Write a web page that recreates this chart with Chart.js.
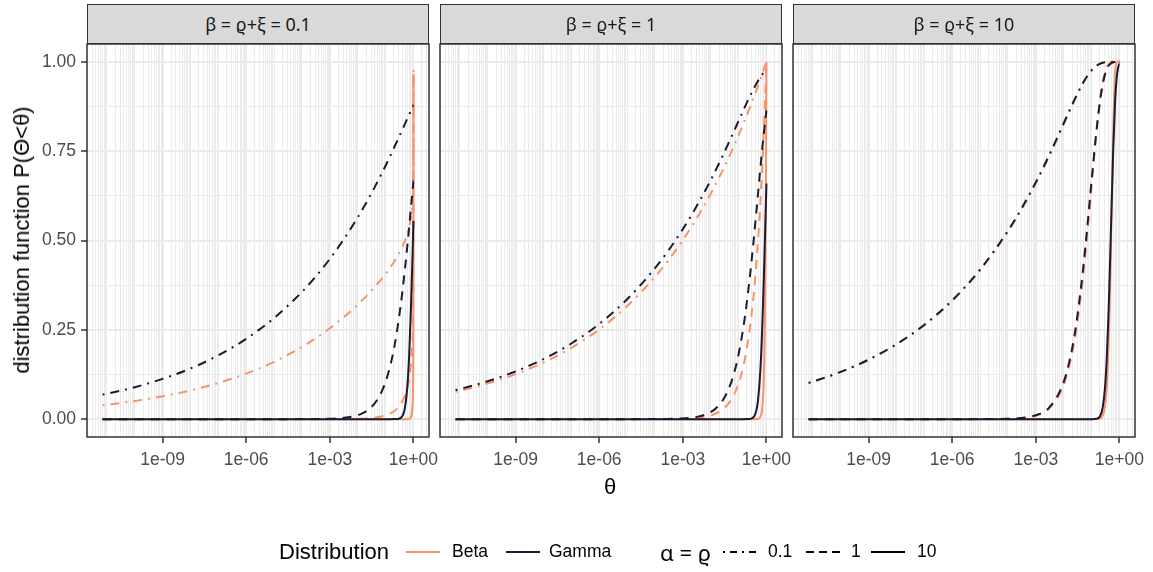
<!DOCTYPE html>
<html><head><meta charset="utf-8">
<script src="https://cdn.jsdelivr.net/npm/chart.js@4.4.1/dist/chart.umd.min.js"></script>
<style>
html,body{margin:0;padding:0;background:#fff;}
#wrap{position:relative;width:1153px;height:572px;overflow:hidden;font-family:'Liberation Sans',Arial,sans-serif;}
canvas{position:absolute;left:0;top:0;}
.strip{position:absolute;top:4px;height:40px;width:342px;box-sizing:border-box;border:1.5px solid #333;background:#D9D9D9;color:#1A1A1A;font-size:18px;font-family:'Noto Sans','DejaVu Sans',sans-serif;display:flex;align-items:center;justify-content:center;}
.txt{position:absolute;white-space:nowrap;line-height:1;}
.key{position:absolute;}
</style></head>
<body><div id="wrap">
<canvas id="c0" width="1153" height="572"></canvas>
<canvas id="c1" width="1153" height="572"></canvas>
<canvas id="c2" width="1153" height="572"></canvas>
<div class="strip" id="s0" style="left:87px"></div>
<div class="strip" id="s1" style="left:440px"></div>
<div class="strip" id="s2" style="left:793px"></div>
<div class="txt" style="left:22px;top:240px;font-size:22px;color:#000;transform:translate(-50%,-50%) rotate(-90deg);">distribution function P(Θ&lt;θ)</div>
<div class="txt" style="left:610px;top:487px;font-size:22px;color:#000;transform:translate(-50%,-50%);">θ</div>
<div id="legend"></div>
</div>
<script>
// ---------- data ----------
const panelLabels = ['β = ϱ+ξ = 0.1', 'β = ϱ+ξ = 1', 'β = ϱ+ξ = 10'];
const alphaLevels = ['0.1', '1', '10'];
const distributions = ['Beta', 'Gamma'];
const xTickValues = [1e-9, 1e-6, 1e-3, 1];
const xTickLabels = ['1e-09', '1e-06', '1e-03', '1e+00'];
const yTickValues = [0, 0.25, 0.5, 0.75, 1];
const yTickLabels = ['0.00', '0.25', '0.50', '0.75', '1.00'];

const theta = [7e-12, 1e-11, 1e-10, 1e-9, 1e-8, 1e-7, 1e-6, 1e-5, 1e-4, 3e-4, 1e-3, 3e-3,
  0.01, 0.02, 0.03, 0.05, 0.07, 0.1, 0.15, 0.2, 0.25, 0.3, 0.35, 0.4, 0.45, 0.5,
  0.6, 0.7, 0.8, 0.9, 0.95, 0.99, 0.999, 0.9999, 0.9999999999999999];

// panel beta = 0.1
const beta01_a01 = [0.0389,0.0403,0.0507,0.0639,0.0804,0.1012,0.1274,0.1604,0.2019,0.2254,0.2542,0.2839,0.3203,0.3435,0.3580,0.3775,0.3910,0.4064,0.4252,0.4396,0.4520,0.4627,0.4728,0.4821,0.4911,0.5000,0.5179,0.5373,0.5604,0.5936,0.6225,0.6797,0.7458,0.7981,0.9871];
const gamma01_a01 = [0.0686,0.0711,0.0895,0.1127,0.1418,0.1786,0.2248,0.2829,0.3562,0.3976,0.4484,0.5006,0.5645,0.6050,0.6300,0.6626,0.6850,0.7094,0.7380,0.7591,0.7755,0.7891,0.8006,0.8105,0.8192,0.8273,0.8410,0.8525,0.8622,0.8712,0.8752,0.8785,0.8790,0.8790,0.8790];
const beta01_a1 = [0,0,0,0,0,0,0,0,0,0,0.0001,0.0003,0.0010,0.0020,0.0030,0.0051,0.0072,0.0105,0.0161,0.0221,0.0284,0.0350,0.0422,0.0498,0.0580,0.0670,0.0876,0.1135,0.1487,0.2057,0.2589,0.3690,0.4988,0.6019,0.9746];
const gamma01_a1 = [0,0,0,0,0,0,0,0,0.0001,0.0003,0.0011,0.0033,0.0109,0.0218,0.0325,0.0535,0.0741,0.1042,0.1521,0.1975,0.2404,0.2811,0.3195,0.3560,0.3904,0.4231,0.4831,0.5370,0.5852,0.6284,0.6483,0.6635,0.6667,0.6671,0.6671];
const beta01_a10 = [0,0,0,0,0,0,0,0,0,0,0,0,0,0,0,0,0,0,0,0,0,0,0,0,0,0,0,0.0009,0.0045,0.0238,0.0594,0.1754,0.3402,0.4755,0.9665];
const gamma01_a10 = [0,0,0,0,0,0,0,0,0,0,0,0,0,0,0,0,0,0,0,0.0001,0.0003,0.0012,0.0036,0.0087,0.0182,0.0337,0.0881,0.1767,0.2933,0.4243,0.4900,0.5420,0.5530,0.5542,0.5543];

// panel beta = 1
const beta1_a01 = [0.0766,0.0794,0.1000,0.1259,0.1585,0.1995,0.2512,0.3162,0.3981,0.4444,0.5012,0.5595,0.6310,0.6762,0.7040,0.7411,0.7664,0.7943,0.8273,0.8513,0.8706,0.8865,0.9004,0.9124,0.9233,0.9330,0.9502,0.9650,0.9779,0.9895,0.9949,0.9990,0.9999,1.0000,1.0000];
const gamma1_a01 = [0.0813,0.0843,0.1061,0.1336,0.1682,0.2117,0.2666,0.3355,0.4224,0.4715,0.5318,0.5935,0.6689,0.7162,0.7449,0.7826,0.8077,0.8348,0.8652,0.8866,0.9023,0.9150,0.9252,0.9335,0.9408,0.9468,0.9570,0.9645,0.9708,0.9755,0.9775,0.9790,0.9793,0.9793,0.9793];
const beta1_a1 = [0,0,0,0,0,0,0,0,0.0001,0.0003,0.001,0.003,0.01,0.02,0.03,0.05,0.07,0.1,0.15,0.2,0.25,0.3,0.35,0.4,0.45,0.5,0.6,0.7,0.8,0.9,0.95,0.99,0.999,0.9999,1];
const gamma1_a1 = [0,0,0,0,0,0,0,0,0.0002,0.0006,0.0020,0.0060,0.0198,0.0392,0.0582,0.0952,0.1306,0.1813,0.2592,0.3297,0.3935,0.4512,0.5034,0.5507,0.5934,0.6321,0.6988,0.7534,0.7981,0.8347,0.8504,0.8619,0.8644,0.8647,0.8647];
const beta1_a10 = [0,0,0,0,0,0,0,0,0,0,0,0,0,0,0,0,0,0,0,0,0,0,0,0.0001,0.0003,0.0010,0.0060,0.0282,0.1074,0.3487,0.5987,0.9044,0.9900,0.9990,1.0];
const gamma1_a10 = [0,0,0,0,0,0,0,0,0,0,0,0,0,0,0,0,0,0,0,0.0001,0.0006,0.0022,0.0063,0.0149,0.0300,0.0537,0.1315,0.2470,0.3863,0.5292,0.5950,0.6465,0.6582,0.6594,0.6595];

// panel beta = 10
const beta10_a01 = [0.1009,0.1046,0.1317,0.1659,0.2088,0.2629,0.3309,0.4166,0.5245,0.5854,0.6598,0.7353,0.8245,0.8767,0.9060,0.9402,0.9595,0.9762,0.9898,0.9955,0.9982,0.9991,0.9996,0.9998,0.9999,1,1,1,1,1,1,1,1,1,1];
const gamma10_a01 = [0.1015,0.1052,0.1324,0.1667,0.2099,0.2643,0.3327,0.4189,0.5273,0.5884,0.6633,0.7387,0.8283,0.8800,0.9091,0.9420,0.9604,0.9761,0.9888,0.9945,0.9973,0.9986,0.9992,0.9996,0.9998,0.9999,1,1,1,1,1,1,1,1,1];
const beta10_a1 = [0,0,0,0,0,0,0,0.0001,0.0010,0.0030,0.0100,0.0296,0.0956,0.1829,0.2626,0.4013,0.5160,0.6513,0.8031,0.8926,0.9437,0.9718,0.9865,0.9940,0.9975,0.9990,0.9999,1,1,1,1,1,1,1,1];
const gamma10_a1 = [0,0,0,0,0,0,0,0.0001,0.0011,0.0033,0.0109,0.0325,0.1042,0.1975,0.2811,0.4231,0.5370,0.6671,0.8080,0.8892,0.9361,0.9631,0.9787,0.9877,0.9929,0.9959,0.9986,0.9995,0.9998,0.9999,1,1,1,1,1];
const beta10_a10 = [0,0,0,0,0,0,0,0,0,0,0,0,0,0,0,0,0,0,0.0001,0.0016,0.0089,0.0325,0.0875,0.1861,0.3290,0.5000,0.8139,0.9675,0.9984,1,1,1,1,1,1];
const gamma10_a10 = [0,0,0,0,0,0,0,0,0,0,0,0,0,0,0,0,0,0,0.0011,0.0081,0.0318,0.0839,0.1695,0.2834,0.4126,0.5421,0.7576,0.8906,0.9567,0.9846,0.9911,0.9942,0.9949,0.9950,0.9950];

// ---------- styling ----------
const COL = {Beta: '#F5946B', Gamma: '#1C1A33'};
const DASH = [[2, 6, 9, 6], [9, 7], []];
const LW = 2;
const TICK_FONT = 17.5;
const XMIN = Math.pow(10, -11.713), XMAX = Math.pow(10, 0.558);
const panelLeft = [87, 440, 793], panelW = 342;
const panelSeries = [
  {Beta: [beta01_a01, beta01_a1, beta01_a10], Gamma: [gamma01_a01, gamma01_a1, gamma01_a10]},
  {Beta: [beta1_a01, beta1_a1, beta1_a10], Gamma: [gamma1_a01, gamma1_a1, gamma1_a10]},
  {Beta: [beta10_a01, beta10_a1, beta10_a10], Gamma: [gamma10_a01, gamma10_a1, gamma10_a10]}
];

Chart.defaults.font.family = "'Liberation Sans', Arial, sans-serif";
Chart.defaults.font.size = TICK_FONT;

const gridX = [];
for (let n = -12; n <= 0; n++) for (let k = 1; k <= 9; k++) {
  const v = k * Math.pow(10, n);
  if (v >= XMIN && v <= XMAX) gridX.push(v);
}
const gridY = [0, 0.125, 0.25, 0.375, 0.5, 0.625, 0.75, 0.875, 1];
function xMajorIdx(v) { return xTickValues.findIndex(t => Math.abs(Math.log10(v) - Math.log10(t)) < 1e-6); }
function yMajorIdx(v) { return yTickValues.findIndex(t => Math.abs(v - t) < 1e-9); }

const frame = {id: 'frame', afterDraw(chart) {
  const {ctx, chartArea: a} = chart;
  ctx.save(); ctx.strokeStyle = '#333333'; ctx.lineWidth = 1.5;
  ctx.strokeRect(a.left, a.top, a.right - a.left, a.bottom - a.top); ctx.restore();
}};

panelSeries.forEach((ps, p) => {
  document.getElementById('s' + p).textContent = panelLabels[p];
  const datasets = [];
  // Gamma first: Chart.js draws the first dataset on top
  ['Gamma', 'Beta'].forEach(d => {
    ps[d].forEach((vals, ai) => {
      datasets.push({
        label: d + ' ' + alphaLevels[ai],
        data: theta.map((t, i) => ({x: t, y: vals[i]})),
        borderColor: COL[d], borderWidth: LW, borderDash: DASH[ai],
        pointRadius: 0, fill: false, cubicInterpolationMode: 'monotone'
      });
    });
  });
  const showY = p === 0;
  const L = panelLeft[p], R = L + panelW;
  new Chart(document.getElementById('c' + p), {
    type: 'line',
    data: {datasets},
    options: {
      responsive: false, animation: false, devicePixelRatio: 1,
      layout: {padding: {left: showY ? 0 : L, right: 1153 - R, top: 44, bottom: 95}},
      plugins: {legend: {display: false}, tooltip: {enabled: false}},
      scales: {
        x: {
          type: 'logarithmic', min: XMIN, max: XMAX,
          afterBuildTicks: ax => { ax.ticks = gridX.map(v => ({value: v})); },
          afterFit: ax => { ax.height = 40; },
          ticks: {autoSkip: false, maxRotation: 0, minRotation: 0, padding: 7, color: '#4D4D4D',
            callback: v => { const i = xMajorIdx(v); return i >= 0 ? xTickLabels[i] : ''; }},
          grid: {
            color: '#EBEBEB',
            lineWidth: c => (c.tick && xMajorIdx(c.tick.value) >= 0) ? 2 : 1,
            tickLength: 6,
            tickColor: c => (c.tick && xMajorIdx(c.tick.value) >= 0) ? '#333333' : 'rgba(0,0,0,0)',
            tickWidth: 1.5
          },
          border: {display: false}
        },
        y: {
          type: 'linear', min: -0.05, max: 1.05,
          afterBuildTicks: ax => { ax.ticks = gridY.map(v => ({value: v})); },
          afterFit: ax => { ax.width = showY ? 87 : 0; },
          ticks: {display: showY, padding: 5, color: '#4D4D4D',
            callback: v => { const i = yMajorIdx(v); return i >= 0 ? yTickLabels[i] : ''; }},
          grid: {
            color: '#EBEBEB',
            lineWidth: c => (c.tick && yMajorIdx(c.tick.value) >= 0) ? 2 : 1,
            drawTicks: showY, tickLength: 6,
            tickColor: c => (c.tick && yMajorIdx(c.tick.value) >= 0) ? '#333333' : 'rgba(0,0,0,0)',
            tickWidth: 1.5
          },
          border: {display: false}
        }
      }
    },
    plugins: [frame]
  });
});

// ---------- legend (HTML text, SVG keys) ----------
const lg = document.getElementById('legend');
function addText(txt, left, size, font) {
  const d = document.createElement('div'); d.className = 'txt'; d.textContent = txt;
  d.style.left = left + 'px'; d.style.top = '552px'; d.style.fontSize = size + 'px';
  d.style.transform = 'translateY(-50%)'; d.style.color = '#000';
  if (font) d.style.fontFamily = font;
  lg.appendChild(d);
}
function addKey(left, color, dash) {
  const ns = 'http://www.w3.org/2000/svg';
  const s = document.createElementNS(ns, 'svg');
  s.setAttribute('width', 36); s.setAttribute('height', 6); s.setAttribute('class', 'key');
  s.style.left = left + 'px'; s.style.top = '549px';
  const l = document.createElementNS(ns, 'line');
  l.setAttribute('x1', 1); l.setAttribute('x2', 35); l.setAttribute('y1', 3); l.setAttribute('y2', 3);
  l.setAttribute('stroke', color); l.setAttribute('stroke-width', LW);
  if (dash.length) l.setAttribute('stroke-dasharray', dash.join(' '));
  s.appendChild(l); lg.appendChild(s);
}
addText('Distribution', 279, 22);
addKey(405, COL.Beta, []); addText(distributions[0], 452, TICK_FONT);
addKey(505, COL.Gamma, []); addText(distributions[1], 549, TICK_FONT);
addText('α = ϱ', 660, 22, "'Noto Sans','DejaVu Sans',sans-serif");
addKey(722, '#000', [2, 5, 7, 5]); addText(alphaLevels[0], 768, TICK_FONT);
addKey(805, '#000', [8, 5]); addText(alphaLevels[1], 851, TICK_FONT);
addKey(870, '#000', DASH[2]); addText(alphaLevels[2], 917, TICK_FONT);
</script>
</body></html>
